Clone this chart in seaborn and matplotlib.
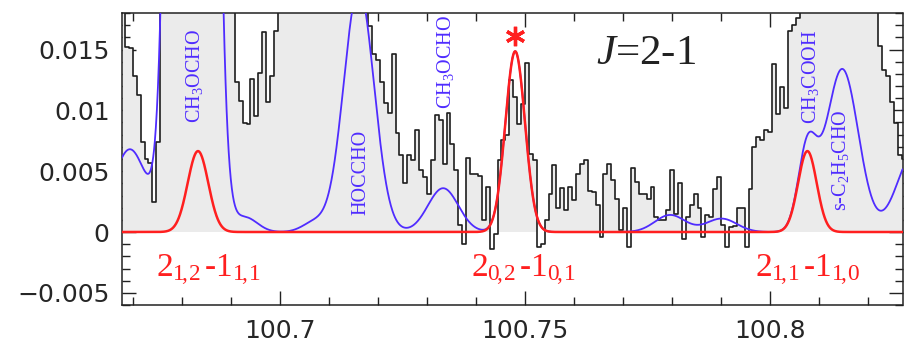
import numpy as np
import pandas as pd
import matplotlib
matplotlib.use("Agg")
import matplotlib.pyplot as plt
from matplotlib.ticker import MultipleLocator, FixedLocator, FixedFormatter
import seaborn as sns

# ---------------------------------------------------------------------------
# Observed spectrum: regular channel grid (GHz) and intensity per channel
# ---------------------------------------------------------------------------
chan_first = 100.6680
chan_step = 0.0008
flux = [
    0.0210, 0.0152, 0.0151, 0.0128, 0.0113, 0.0074, 0.0060, 0.0057, 0.0025, 0.0074,
    0.0215, 0.0240, 0.0265, 0.0290, 0.0310, 0.0330, 0.0340, 0.0345, 0.0335, 0.0320,
    0.0300, 0.0280, 0.0265, 0.0250, 0.0240, 0.0230, 0.0215, 0.0205, 0.0190, 0.0123,
    0.0108, 0.0090, 0.0089, 0.0126, 0.0095, 0.0131, 0.0164, 0.0107, 0.0128, 0.0165,
    0.0195, 0.0210, 0.0230, 0.0250, 0.0265, 0.0270, 0.0275, 0.0285, 0.0300, 0.0320,
    0.0345, 0.0370, 0.0400, 0.0430, 0.0450, 0.0460, 0.0450, 0.0420, 0.0380, 0.0330,
    0.0280, 0.0230, 0.0195, 0.0169, 0.0146, 0.0141, 0.0123, 0.0106, 0.0098, 0.0146,
    0.0081, 0.0063, 0.0040, 0.0063, 0.0059, 0.0084, 0.0051, 0.0045, 0.0031, 0.0059,
    0.0096, 0.0092, 0.0056, 0.0098, 0.0072, 0.0051, 0.0006, -0.0010, 0.0061, 0.0048,
    0.0048, 0.0046, 0.0010, 0.0037, -0.0014, -0.0002, 0.0059, 0.0076, 0.0080, 0.0125,
    0.0111, 0.0089, 0.0105, 0.0139, 0.0064, 0.0059, -0.0012, -0.0010, 0.0010, 0.0031,
    0.0055, 0.0020, 0.0036, 0.0018, 0.0037, 0.0026, 0.0048, 0.0056, 0.0059, 0.0034,
    0.0033, 0.0022, -0.0004, 0.0048, 0.0056, 0.0043, 0.0027, 0.0002, 0.0020, -0.0012,
    0.0053, 0.0041, 0.0031, 0.0031, 0.0027, 0.0037, 0.0012, 0.0010, 0.0010, 0.0018,
    0.0051, 0.0015, 0.0040, -0.0006, 0.0012, 0.0022, 0.0031, 0.0020, -0.0004, 0.0014,
    0.0012, 0.0035, 0.0045, 0.0006, -0.0012, 0.0004, 0.0005, 0.0020, 0.0020, -0.0012,
    0.0035, 0.0070, 0.0078, 0.0076, 0.0084, 0.0082, 0.0138, 0.0097, 0.0119, 0.0102,
    0.0165, 0.0170, 0.0176, 0.0195, 0.0215, 0.0240, 0.0265, 0.0290, 0.0310, 0.0325,
    0.0330, 0.0325, 0.0310, 0.0290, 0.0270, 0.0255, 0.0240, 0.0225, 0.0215, 0.0205,
    0.0200, 0.0195, 0.0188, 0.0153, 0.0133, 0.0128, 0.0107, 0.0090, 0.0063, 0.0060,
]

# ---------------------------------------------------------------------------
# LTE model: glycolaldehyde J=2-1 transitions (red) ...
# ---------------------------------------------------------------------------
line_labels = [r"$2_{1\!,\!2}\,$-$1_{1\!,\!1}$",
               r"$2_{0\!,\!2}\,$-$1_{0\!,\!1}$",
               r"$2_{1\!,\!1}\,$-$1_{1\!,\!0}$"]
line_freq = [100.6833, 100.7480, 100.8076]
line_peak = [0.00665, 0.01485, 0.00665]
line_sigma = [0.0021, 0.0020, 0.0019]

# ... plus the other species that make up the full model (blue)
blend_freq = [100.6694, 100.6821, 100.6929, 100.7071, 100.7161,
              100.7333, 100.7796, 100.7901, 100.8147, 100.8294]
blend_peak = [0.0068, 0.3700, 0.0012, 0.0008, 0.0200,
              0.0036, 0.0014, 0.0011, 0.0134, 0.0065]
blend_sigma = [0.00347, 0.0026, 0.0025, 0.00245, 0.0031,
               0.0031, 0.0031, 0.0031, 0.0033, 0.0035]

species_labels = ["CH$_3$OCHO", "HOCCHO", "CH$_3$OCHO", "CH$_3$COOH", "s-C$_2$H$_5$CHO"]
panel_title = "$J$=2-1"

ytick_values = [-0.005, 0.0, 0.005, 0.01, 0.015]
ytick_labels = ["\u22120.005", "0", "0.005", "0.01", "0.015"]
xtick_values = [100.70, 100.75, 100.80]
xtick_labels = ["100.7", "100.75", "100.8"]

# ---------------------------------------------------------------------------
# Build data frames
# ---------------------------------------------------------------------------
freq = chan_first + chan_step * np.arange(len(flux))
spec = pd.DataFrame({"freq": freq, "flux": flux})

x_lo, x_hi = 100.6678, 100.8270
y_lo, y_hi = -0.0060, 0.0180

grid = np.linspace(x_lo, x_hi, 3000)


def gauss_sum(x, centers, peaks, sigmas):
    out = np.zeros_like(x)
    for c, a, s in zip(centers, peaks, sigmas):
        out += a * np.exp(-0.5 * ((x - c) / s) ** 2)
    return out


target = gauss_sum(grid, line_freq, line_peak, line_sigma)
total = target + gauss_sum(grid, blend_freq, blend_peak, blend_sigma)
model = pd.DataFrame({"freq": grid, "target": target, "total": total})

# ---------------------------------------------------------------------------
# Plot
# ---------------------------------------------------------------------------
sns.set_theme(style="ticks")
plt.rcParams["font.family"] = ["DejaVu Sans"]
plt.rcParams["mathtext.fontset"] = "custom"
plt.rcParams["mathtext.rm"] = "Liberation Serif"
plt.rcParams["mathtext.it"] = "Liberation Serif:italic"

RED = "#ff1f1f"
BLUE = "#4f2cff"
FILL = "#ebebeb"
INK = "#1e1e1e"

fig = plt.figure(figsize=(9.05, 3.44), dpi=100)
ax = fig.add_axes([122 / 905, 39 / 344, 780.5 / 905, 292 / 344])

ax.fill_between(spec["freq"], 0, np.clip(spec["flux"], 0, None),
                step="mid", color=FILL, lw=0, zorder=1)
sns.lineplot(data=spec, x="freq", y="flux", ax=ax, color=INK, linewidth=1.2,
             drawstyle="steps-mid", estimator=None, sort=False, zorder=2)
sns.lineplot(data=model, x="freq", y="total", ax=ax, color=BLUE, linewidth=1.3,
             estimator=None, sort=False, zorder=3)
sns.lineplot(data=model, x="freq", y="target", ax=ax, color=RED, linewidth=1.8,
             estimator=None, sort=False, zorder=4)

ax.set_xlim(x_lo, x_hi)
ax.set_ylim(y_lo, y_hi)
ax.set_xlabel("")
ax.set_ylabel("")

ax.xaxis.set_major_locator(FixedLocator(xtick_values))
ax.xaxis.set_major_formatter(FixedFormatter(xtick_labels))
ax.xaxis.set_minor_locator(MultipleLocator(0.01))
ax.yaxis.set_major_locator(FixedLocator(ytick_values))
ax.yaxis.set_major_formatter(FixedFormatter(ytick_labels))
ax.yaxis.set_minor_locator(MultipleLocator(0.001))

ax.tick_params(which="both", direction="in", top=True, right=True,
               color="#222222", width=1.0)
ax.tick_params(which="major", length=10, labelsize=18, labelcolor="#262626")
ax.tick_params(which="minor", length=5.5)
ax.tick_params(axis="y", which="major", pad=9)
ax.tick_params(axis="x", which="major", pad=10)
for sp in ax.spines.values():
    sp.set_visible(True)
    sp.set_linewidth(1.1)
    sp.set_color("#222222")

# transition labels under each model line
serif = ["Liberation Serif", "DejaVu Serif"]
for lab, xpos in zip(line_labels, [100.68531, 100.74959, 100.80765]):
    ax.text(xpos, -0.0037, lab, color=RED, fontsize=24, family=serif,
            ha="center", va="baseline", zorder=6)

# species identifications along the blue model
for lab, xpos, ypos in zip(species_labels,
                           [100.68265, 100.71663, 100.73378, 100.80816, 100.81429],
                           [0.01285, 0.00487, 0.0140, 0.01277, 0.00594]):
    ax.text(xpos, ypos, lab, color=BLUE, fontsize=14.5, family=serif,
            rotation=90, ha="center", va="center", zorder=6)

# detected line marker and panel title
ax.plot([line_freq[1]], [0.0161], marker=(6, 2, 0), markersize=14,
        markeredgewidth=2.4, color=RED, zorder=6)
ax.text(100.7747, 0.0138, panel_title, color="#222222", fontsize=31,
        family=serif, ha="center", va="baseline", zorder=6)

fig.savefig("out.png", dpi=100)
